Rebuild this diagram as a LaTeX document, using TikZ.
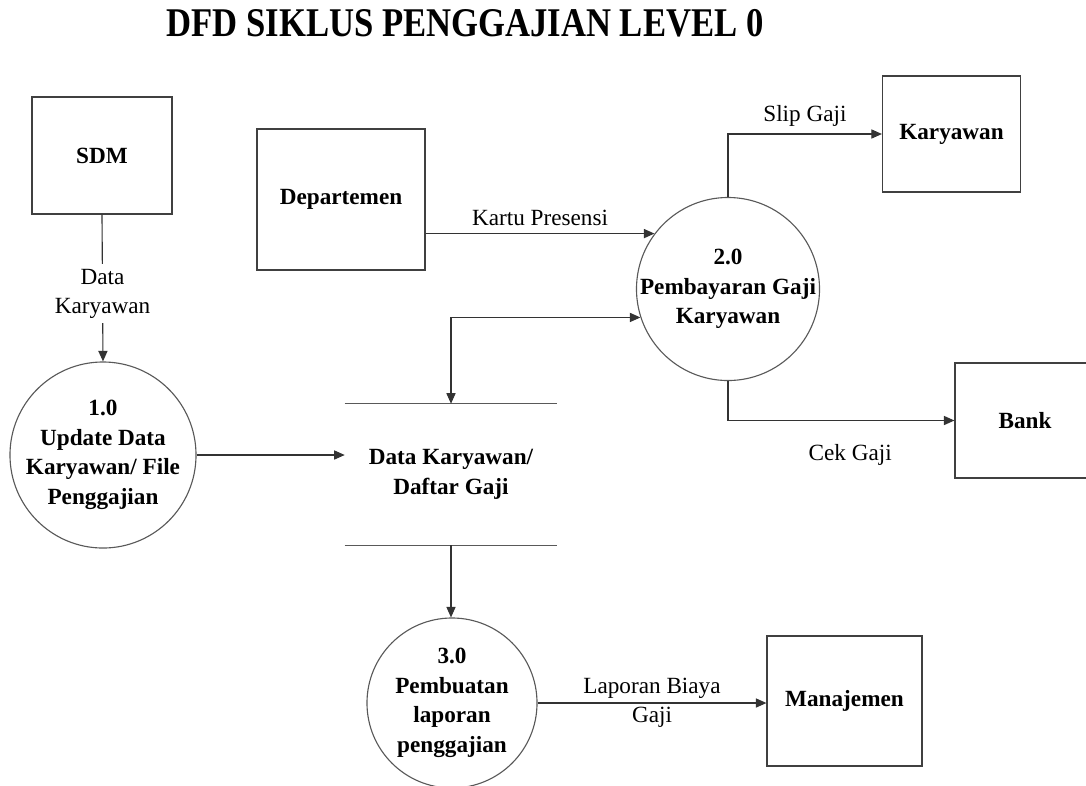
\documentclass[tikz,border=0pt]{standalone}
\usepackage{fontspec}
\setmainfont{Liberation Serif}
\newfontfamily\titlefont[FakeStretch=0.85]{Liberation Serif}
\usetikzlibrary{arrows.meta}

\begin{document}
\begin{tikzpicture}[
  x=0.025cm, y=-0.025cm,
  entity/.style={
    rectangle,
    draw=black!75,
    line width=0.8pt,
    font=\fontsize{16.5}{21}\selectfont\bfseries,
    align=center
  },
  process/.style={
    circle,
    draw=black!65,
    line width=0.8pt,
    minimum size=#1,
    inner sep=0pt
  },
  proctext/.style={
    font=\fontsize{16.5}{21}\selectfont\bfseries,
    align=center
  },
  flow/.style={
    -{Triangle[length=7.5pt, width=6.5pt]},
    line width=0.8pt,
    draw=black!80
  },
  flowlabel/.style={
    font=\fontsize{16.5}{21}\selectfont,
    align=center
  },
  storeline/.style={
    line width=1.1pt,
    draw=black!65
  }
]
\useasboundingbox (0,0) rectangle (1086,785);
\clip (0,0) rectangle (1086,785);

% Title
\node[font=\titlefont\fontsize{29}{34}\selectfont\bfseries] (title) at (465,23) {DFD SIKLUS PENGGAJIAN LEVEL 0};

% External entities
\node[entity, minimum width=3.5cm, minimum height=2.925cm] (sdm) at (102,155.5) {SDM};
\node[entity, minimum width=4.2cm, minimum height=3.525cm] (dept) at (341,199.5) {Departemen};
\node[entity, minimum width=3.45cm, minimum height=2.9cm] (kary) at (951.5,134) {Karyawan};
\node[entity, minimum width=3.5cm, minimum height=2.875cm] (bank) at (1025,420.5) {Bank};
\node[entity, minimum width=3.875cm, minimum height=3.25cm] (mgmt) at (844.5,701) {Manajemen};

% Processes
\node[process=4.65cm, label={[proctext]center:{1.0\\Update Data\\Karyawan/ File\\Penggajian}}] (p1) at (103,455) {};
\node[process=4.575cm, label={[proctext]center:{2.0\\Pembayaran Gaji\\Karyawan}}] (p2) at (728,289) {};
\node[process=4.25cm, label={[proctext]center:{3.0\\Pembuatan\\laporan\\penggajian}}] (p3) at (452,703) {};

% Data store
\node[proctext, minimum width=5.3cm, minimum height=3.525cm] (store) at (451,474.5) {Data Karyawan/\\Daftar Gaji};
\draw[storeline] (store.north west) -- (store.north east);
\draw[storeline] (store.south west) -- (store.south east);

% Data flows
\draw[flow] (sdm.south) -- node[flowlabel, fill=white, pos=0.54] {Data\\Karyawan} (p1.north);
\draw[flow] (p1.east) -- (p1.east -| store.west);
\draw[flow] (dept.east |- p2.143) -- node[flowlabel, above=2pt] {Kartu Presensi} (p2.143);
\draw[flow, {Triangle[length=7.5pt, width=6.5pt]}-{Triangle[length=7.5pt, width=6.5pt]}] (store.north) |- (p2.198);
\draw[flow] (p2.north) |- node[flowlabel, above=2pt, pos=0.75] {Slip Gaji} (kary.west);
\draw[flow] (p2.south) |- node[flowlabel, below=13pt, pos=0.77] {Cek Gaji} (bank.west);
\draw[flow] (store.south) -- (store.south |- p3.north);
\draw[flow] (p3.east) -- node[flowlabel] {Laporan Biaya\\Gaji} (p3.east -| mgmt.west);

\end{tikzpicture}
\end{document}
